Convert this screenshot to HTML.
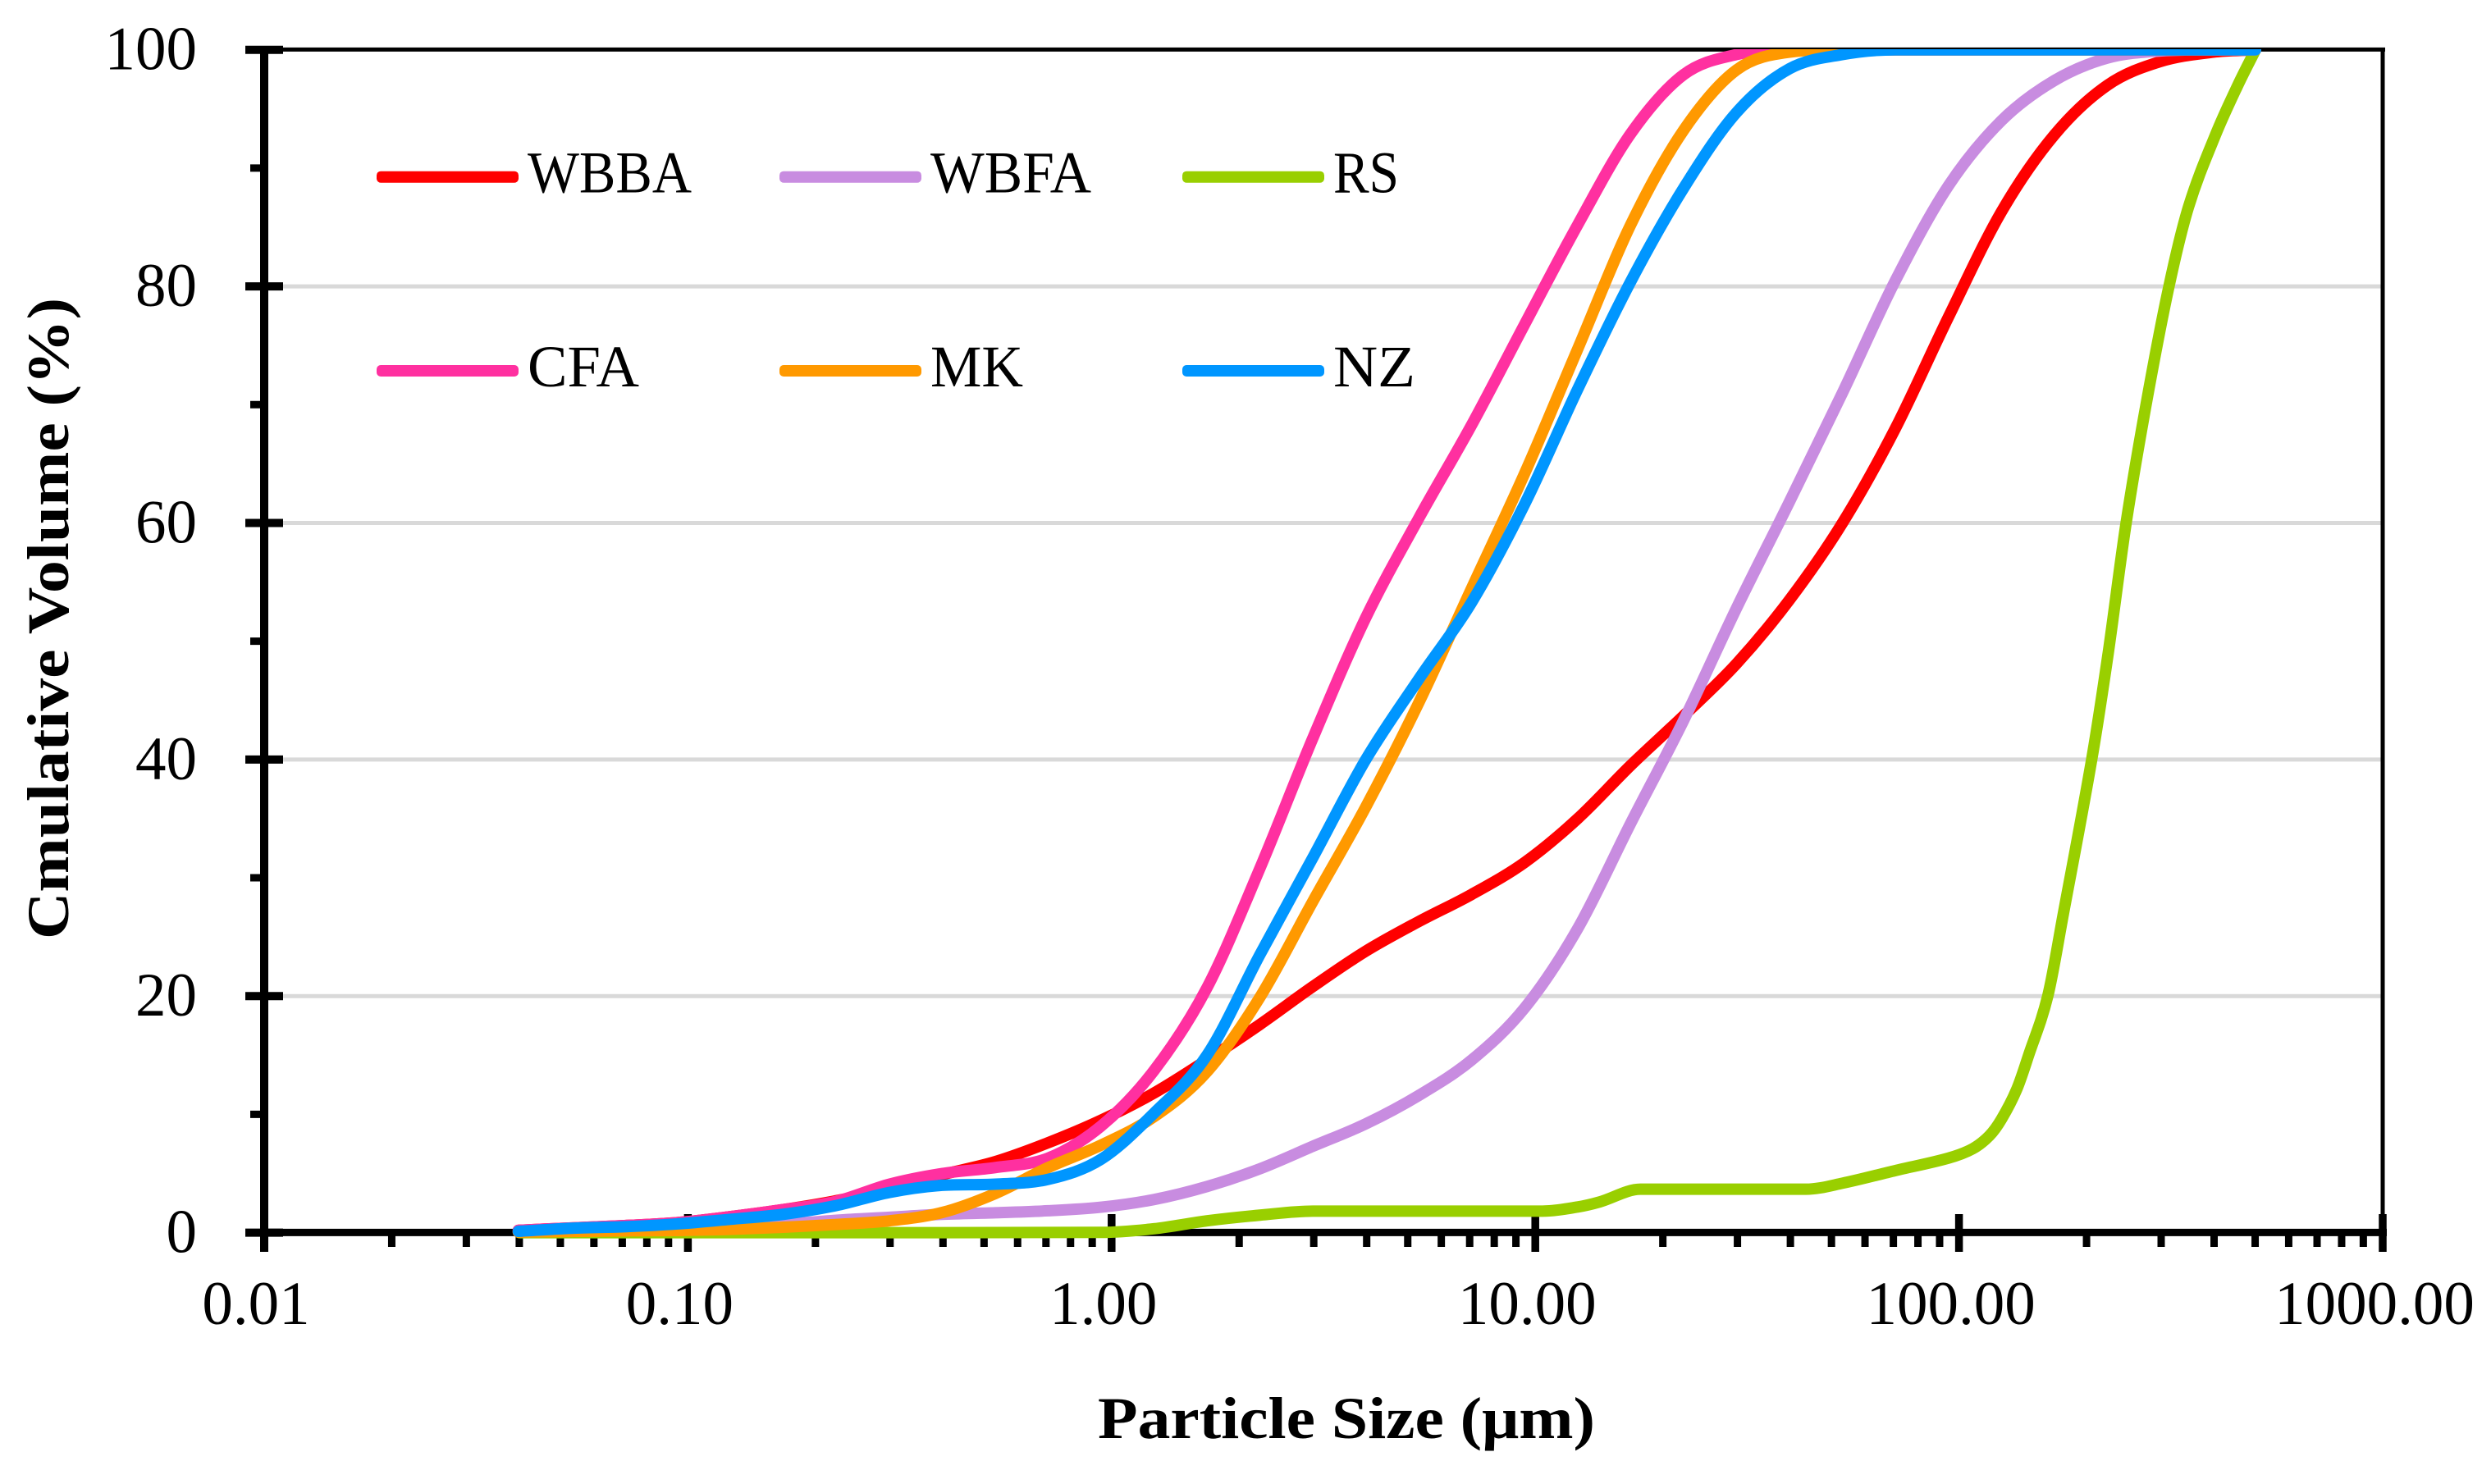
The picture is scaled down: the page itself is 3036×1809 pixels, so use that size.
<!DOCTYPE html>
<html lang="en">
<head>
<meta charset="utf-8">
<title>Cumulative Volume vs Particle Size</title>
<style>
html,body{margin:0;padding:0;background:#fff;}
svg{display:block;}
text{font-family:"Liberation Serif",serif;fill:#000;}
</style>
</head>
<body>
<svg id="chart" xmlns="http://www.w3.org/2000/svg" width="3036" height="1809" viewBox="0 0 3036 1809">
  <rect x="0" y="0" width="3036" height="1809" fill="#ffffff"/>
  <defs>
    <clipPath id="plot-clip"><rect x="322" y="60" width="2583" height="1470"/></clipPath>
  </defs>
  <g id="grid"></g>
  <g id="axes"></g>
  <g id="series" clip-path="url(#plot-clip)"></g>
  <g id="labels"></g>
  <g id="legend"></g>
  <text x="1338" y="1753" font-size="72" font-weight="bold" textLength="606" lengthAdjust="spacingAndGlyphs">Particle Size (μm)</text>
  <text transform="translate(83,1145) rotate(-90)" font-size="72" font-weight="bold" textLength="782" lengthAdjust="spacingAndGlyphs">Cmulative Volume (%)</text>
</svg>
<script>
var sizes = [0.0398,0.0531,0.0708,0.0944,0.126,0.168,0.224,0.299,0.398,0.531,0.708,0.944,1.259,1.679,2.239,2.985,3.981,5.309,7.079,9.441,12.59,16.79,22.39,29.85,39.81,53.09,70.79,94.41,125.9,167.9,223.9,298.5,398.1,501];
var wbbaValues = [0.2,0.4,0.6,0.85,1.35,1.95,2.7,3.7,4.9,6.0,7.6,9.5,11.8,14.6,17.6,20.8,23.8,26.3,28.6,31.3,35,39.5,43.7,48.1,53.5,60,68,77.4,86.3,92.8,97,99,99.8,100];
var wbfaValues = [0.05,0.1,0.15,0.25,0.4,0.7,1.05,1.3,1.55,1.68,1.85,2.15,2.8,3.9,5.4,7.3,9.2,11.6,14.6,19,25.7,34.6,43.3,52.8,61.8,71,80.5,88.5,94,97.4,99.3,99.9,100,100];
var cfaValues = [0.2,0.4,0.6,0.85,1.35,1.95,2.65,4.1,5.0,5.5,6.3,9,13.7,20.7,30.8,41.8,52,60.4,68.3,76.8,85.2,92.9,97.9,99.6,100,100,100,100,100,100,100,100,100,100];
var mkValues = [0.05,0.1,0.15,0.18,0.28,0.46,0.69,1.0,1.7,3.3,5.5,7.4,9.8,13.6,19.9,28,36,44.8,54.5,64.2,74.7,85.2,93.2,98.3,99.8,100,100,100,100,100,100,100,100,100];
var nzValues = [0.11,0.37,0.5,0.74,1.13,1.55,2.29,3.4,4.0,4.1,4.5,6.2,10.1,15,23.5,31.7,40,46.8,53.3,61.6,71.3,80.4,88.3,94.7,98.4,99.6,100,100,100,100,100,100,100,100];
var rsSizes = [0.04,0.1,0.4,0.944,1.259,1.679,2.239,2.985,10.4,12.59,14.2,17.7,43.5,53.09,70.79,94.41,107.8,118,126,136.8,146,162,176,205.7,225,248,278,313,348,403,455,501];
var rsValues = [0,0,0,0.02,0.33,1.0,1.48,1.82,1.82,2.17,2.6,3.67,3.67,4.18,5.25,6.3,7.1,8.2,9.6,12.1,15,20,26.8,40,49,60,70.5,80,86.7,92.8,97,100];
var xTickLabels = ["0.01","0.10","1.00","10.00","100.00","1000.00"];
var xTickValues = [0.01,0.1,1,10,100,1000];
var yTickValues = [0,20,40,60,80,100];
var yMinorValues = [10,30,50,70,90];
var minorMultipliers = [2,3,4,5,6,7,8,9];
var gridValues = [20,40,60,80];

var NS = 'http://www.w3.org/2000/svg';
function xScale(v){ return 322 + (Math.log10(v) + 2) * 516.4; }
function yScale(v){ return 1502.6 - v * 14.419; }

function line(parent, x1, y1, x2, y2, color, width){
  var el = document.createElementNS(NS, 'line');
  el.setAttribute('x1', x1);
  el.setAttribute('y1', y1);
  el.setAttribute('x2', x2);
  el.setAttribute('y2', y2);
  el.setAttribute('stroke', color);
  el.setAttribute('stroke-width', width);
  parent.appendChild(el);
  return el;
}

function smoothPath(pts){
  var n = pts.length, d = [], m = [], i;
  for(i = 0; i < n - 1; i++){
    d.push((pts[i+1][1] - pts[i][1]) / (pts[i+1][0] - pts[i][0]));
  }
  m[0] = d[0];
  m[n-1] = d[n-2];
  for(i = 1; i < n - 1; i++){
    if(d[i-1] * d[i] <= 0){ m[i] = 0; }
    else {
      var c = (pts[i+1][1] - pts[i-1][1]) / (pts[i+1][0] - pts[i-1][0]);
      var lim = 3 * Math.min(Math.abs(d[i-1]), Math.abs(d[i]));
      m[i] = Math.abs(c) > lim ? (c < 0 ? -lim : lim) : c;
    }
  }
  var s = 'M' + pts[0][0].toFixed(2) + ' ' + pts[0][1].toFixed(2);
  for(i = 0; i < n - 1; i++){
    var h = (pts[i+1][0] - pts[i][0]) / 3;
    s += ' C' + (pts[i][0] + h).toFixed(2) + ' ' + (pts[i][1] + m[i]*h).toFixed(2) +
         ' ' + (pts[i+1][0] - h).toFixed(2) + ' ' + (pts[i+1][1] - m[i+1]*h).toFixed(2) +
         ' ' + pts[i+1][0].toFixed(2) + ' ' + pts[i+1][1].toFixed(2);
  }
  return s;
}

var gridG = document.getElementById('grid');
gridValues.forEach(function(v){
  var g = line(gridG, 322, yScale(v), 2904, yScale(v), '#d9d9d9', 5);
  
  
});

var axesG = document.getElementById('axes');
var topBorder = line(axesG, 322, 60.4, 2907, 60.4, '#000', 5);


var rightBorder = line(axesG, xScale(1000), 58, xScale(1000), 1502, '#000', 5);


var yAxisLine = line(axesG, 322, 60, 322, 1526, '#000', 10);


var xAxisLine = line(axesG, 322, 1502.4, 2909, 1502.4, '#000', 9);



yTickValues.forEach(function(v){
  var t = line(axesG, 299, yScale(v), 345, yScale(v), '#000', 10);
  
  
});
yMinorValues.forEach(function(v){
  var t = line(axesG, 305, yScale(v), 322, yScale(v), '#000', 9);
  
  
});
xTickValues.forEach(function(v, i){
  var t = line(axesG, xScale(v), 1480, xScale(v), 1526, '#000', 9.5);
  
  
  if(i < xTickValues.length - 1){
    minorMultipliers.forEach(function(m){
      var mt = line(axesG, xScale(v*m), 1502, xScale(v*m), 1520, '#000', 9);
      
      
    });
  }
});

var labelsG = document.getElementById('labels');
yTickValues.forEach(function(v){
  var t = document.createElementNS(NS, 'text');
  t.setAttribute('x', 240);
  t.setAttribute('y', yScale(v) + 24);
  t.setAttribute('font-size', 75);
  t.setAttribute('text-anchor', 'end');
  
  
  t.textContent = String(v);
  labelsG.appendChild(t);
});
xTickValues.forEach(function(v, i){
  var t = document.createElementNS(NS, 'text');
  t.setAttribute('x', xScale(v) - 10);
  t.setAttribute('y', 1614);
  t.setAttribute('font-size', 75);
  t.setAttribute('text-anchor', 'middle');
  
  
  t.textContent = xTickLabels[i];
  labelsG.appendChild(t);
});

var seriesNames = ['WBBA','WBFA','RS','CFA','MK','NZ'];
var seriesColors = ['#ff0000','#c88ce0','#99cf00','#ff30a0','#ff9900','#0096ff'];
var seriesX = [sizes,sizes,rsSizes,sizes,sizes,sizes];
var seriesY = [wbbaValues,wbfaValues,rsValues,cfaValues,mkValues,nzValues];
var seriesG = document.getElementById('series');
seriesNames.forEach(function(name, i){
  var pts = seriesX[i].map(function(x, j){ return [xScale(x), yScale(seriesY[i][j])]; });
  var p = document.createElementNS(NS, 'path');
  p.setAttribute('d', smoothPath(pts));
  p.setAttribute('fill', 'none');
  p.setAttribute('stroke', seriesColors[i]);
  p.setAttribute('stroke-width', 14);
  p.setAttribute('stroke-linecap', 'round');
  p.setAttribute('stroke-linejoin', 'round');
  
  
  seriesG.appendChild(p);
});

var legendX = [459,950,1441,459,950,1441];
var legendY = [215.7,215.7,215.7,452,452,452];
var legendTextWidth = [200,196,80,136,113,100];
var legendG = document.getElementById('legend');
seriesNames.forEach(function(name, i){
  var r = document.createElementNS(NS, 'rect');
  r.setAttribute('x', legendX[i]);
  r.setAttribute('y', legendY[i] - 7);
  r.setAttribute('width', 173);
  r.setAttribute('height', 14);
  r.setAttribute('rx', 5);
  r.setAttribute('fill', seriesColors[i]);
  
  
  legendG.appendChild(r);
  var t = document.createElementNS(NS, 'text');
  t.setAttribute('x', legendX[i] + 184);
  t.setAttribute('y', legendY[i] + 19);
  t.setAttribute('font-size', 72);
  t.setAttribute('textLength', legendTextWidth[i]);
  t.setAttribute('lengthAdjust', 'spacingAndGlyphs');
  
  
  t.textContent = name;
  legendG.appendChild(t);
});
</script>
</body>
</html>
